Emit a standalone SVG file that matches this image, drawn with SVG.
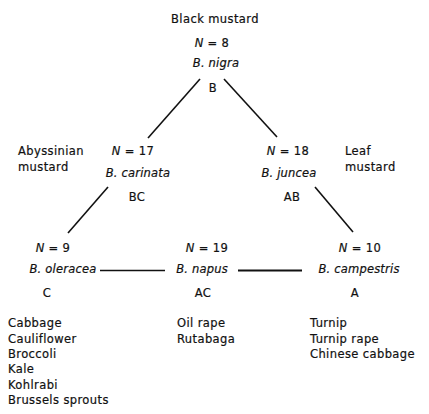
<svg xmlns="http://www.w3.org/2000/svg" width="429" height="414" viewBox="0 0 429 414">
<style>
text{font-family:"DejaVu Sans","Liberation Sans",sans-serif;font-size:11.5px;fill:#111;stroke:#111;stroke-width:0.2;letter-spacing:0.4px}
.m{text-anchor:middle}
.i{font-style:italic;letter-spacing:0.2px}
.ln{stroke:#111;stroke-width:1.6;fill:none;stroke-linecap:butt}
</style>
<rect width="429" height="414" fill="#fff"/>
<g id="connectors">
<line class="ln" x1="200" y1="79" x2="148" y2="138"/>
<line class="ln" x1="224" y1="79" x2="277" y2="137"/>
<line class="ln" x1="108" y1="187" x2="68" y2="233"/>
<line class="ln" x1="315" y1="187" x2="353" y2="232"/>
<line class="ln" x1="100" y1="270.5" x2="165" y2="270.5" style="stroke-width:1.5"/>
<line class="ln" x1="238" y1="270.5" x2="302" y2="270.5" style="stroke-width:2.2"/>
</g>
<g id="nigra">
<text class="m" x="215" y="23">Black mustard</text>
<text class="m" x="212" y="47"><tspan class="i">N</tspan> = 8</text>
<text class="m i" x="216" y="67">B. nigra</text>
<text class="m" x="213" y="92">B</text>
</g>
<g id="carinata">
<text x="18" y="155">Abyssinian</text>
<text x="18" y="170.5">mustard</text>
<text class="m" x="133" y="155"><tspan class="i">N</tspan> = 17</text>
<text class="m i" x="138" y="177">B. carinata</text>
<text class="m" x="137" y="201">BC</text>
</g>
<g id="juncea">
<text x="345" y="155">Leaf</text>
<text x="345" y="170.5">mustard</text>
<text class="m" x="288" y="155"><tspan class="i">N</tspan> = 18</text>
<text class="m i" x="289" y="177">B. juncea</text>
<text class="m" x="292" y="201">AB</text>
</g>
<g id="oleracea">
<text class="m" x="53" y="251.5"><tspan class="i">N</tspan> = 9</text>
<text class="m i" x="63" y="273">B. oleracea</text>
<text class="m" x="47" y="297">C</text>
<text x="8" y="327">Cabbage</text>
<text x="8" y="342.5">Cauliflower</text>
<text x="8" y="358">Broccoli</text>
<text x="8" y="373">Kale</text>
<text x="8" y="388.5">Kohlrabi</text>
<text x="8" y="404">Brussels sprouts</text>
</g>
<g id="napus">
<text class="m" x="207" y="251.5"><tspan class="i">N</tspan> = 19</text>
<text class="m i" x="202" y="273">B. napus</text>
<text class="m" x="203" y="297">AC</text>
<text x="177" y="327">Oil rape</text>
<text x="177" y="342.5">Rutabaga</text>
</g>
<g id="campestris">
<text class="m" x="360" y="251.5"><tspan class="i">N</tspan> = 10</text>
<text class="m i" x="359" y="273">B. campestris</text>
<text class="m" x="355" y="297">A</text>
<text x="310" y="327">Turnip</text>
<text x="310" y="342.5">Turnip rape</text>
<text x="310" y="358">Chinese cabbage</text>
</g>
</svg>
